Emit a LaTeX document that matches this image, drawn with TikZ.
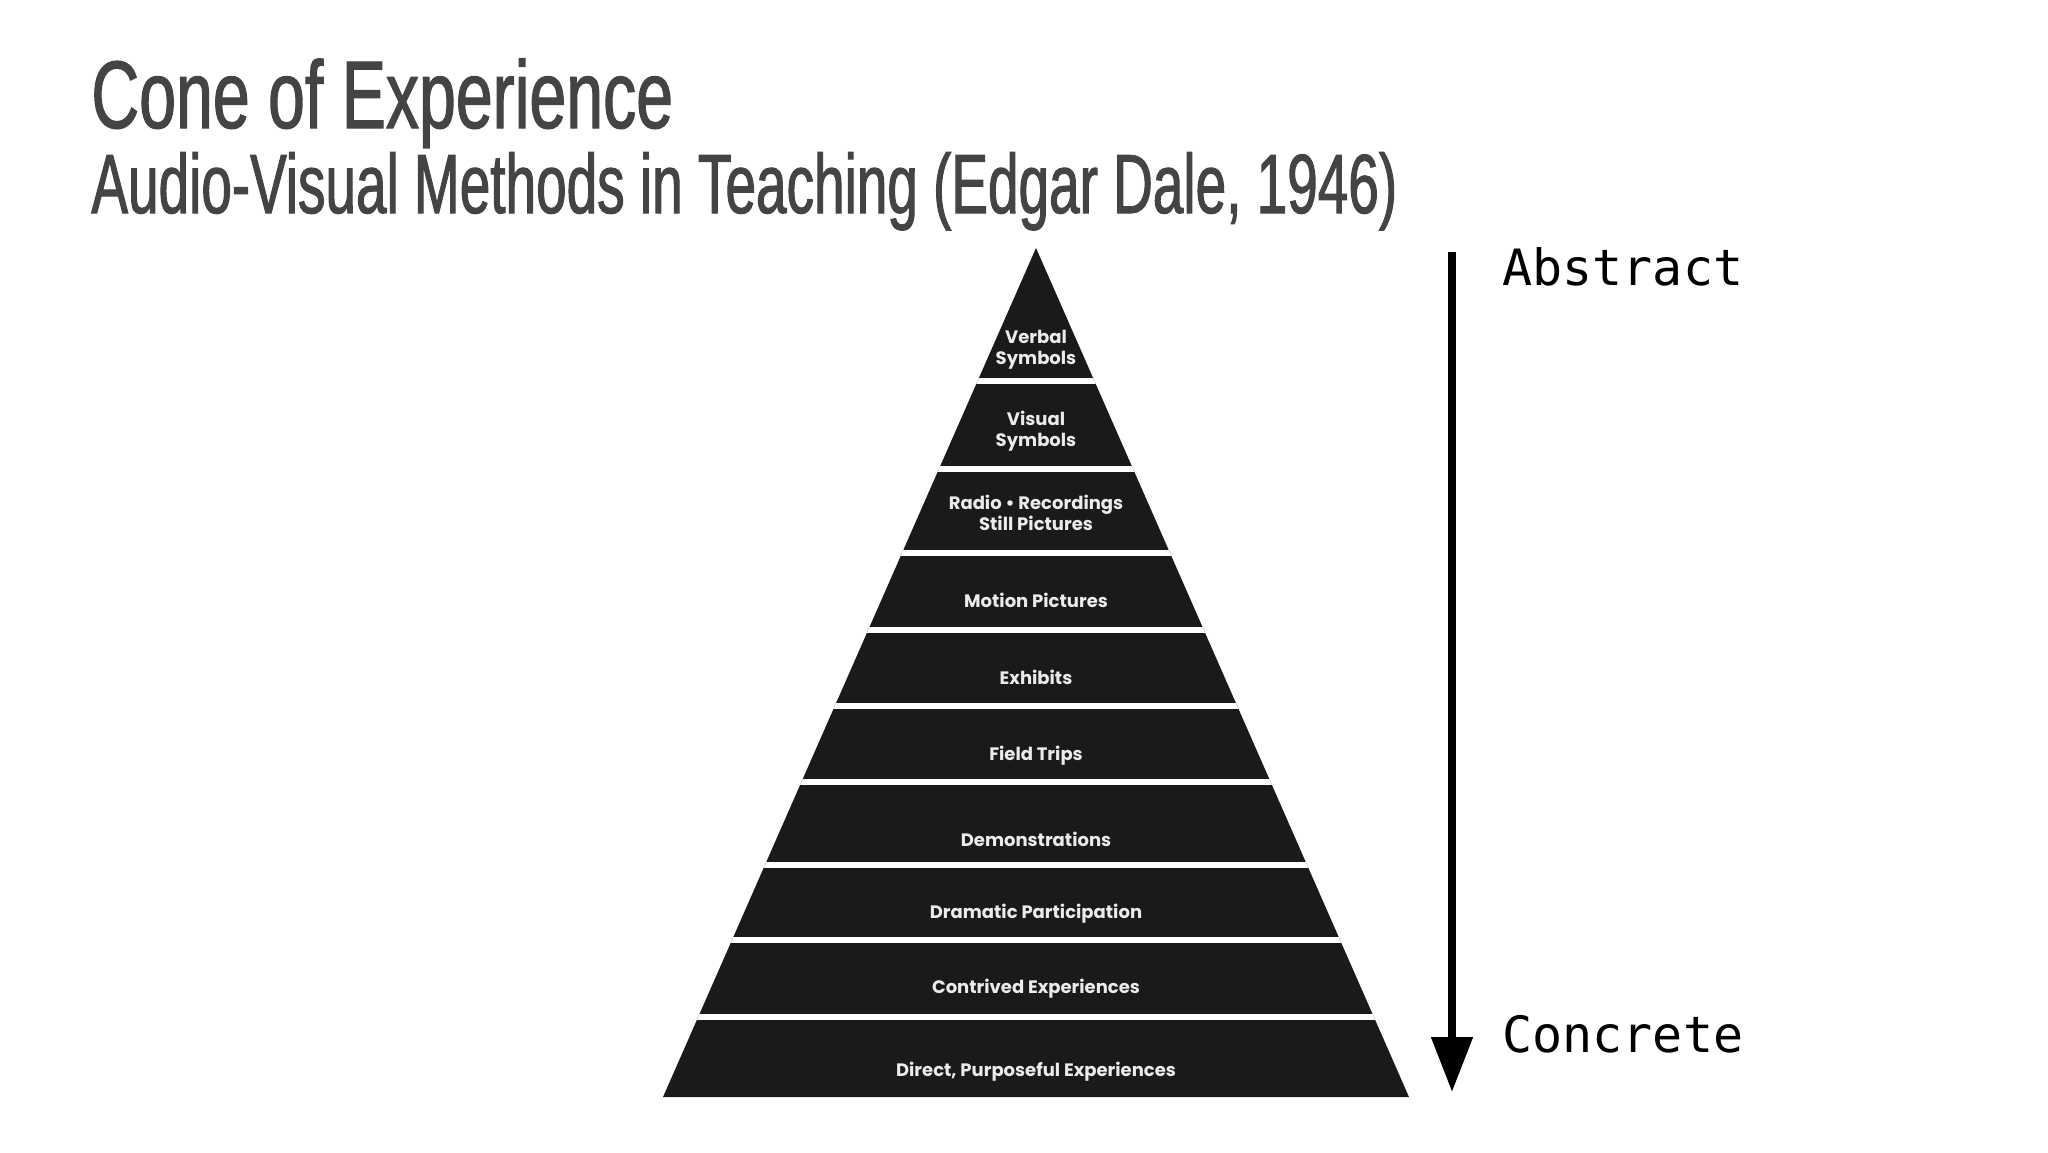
\documentclass[tikz,border=0pt]{standalone}
\usepackage{fontspec}
\usepackage{tikz}
\usetikzlibrary{arrows.meta,positioning}
\setmainfont{Liberation Sans}
\newfontfamily\headfont[FakeStretch=0.69,FakeBold=1.2]{Liberation Sans}
\newfontfamily\subheadfont[FakeStretch=0.654,FakeBold=1.2]{Liberation Sans}
\newfontfamily\conefont{Poppins}
\newfontfamily\axisfont{DejaVu Sans Mono}
\definecolor{conefill}{HTML}{1A1A1A}
\definecolor{headgray}{HTML}{444444}

\begin{document}
\begin{tikzpicture}[x=0.5pt, y=-0.5pt,
  layer/.style={text=white!92!black, font=\conefont\bfseries\fontsize{9}{10.5}\selectfont, align=center, inner sep=0pt},
  heading/.style={anchor=base west, text=headgray, inner sep=0pt},
  axislabel/.style={anchor=base west, font=\axisfont\fontsize{25}{25}\selectfont, inner sep=0pt}]
  \useasboundingbox[fill=white] (0,0) rectangle (2048,1152);

  \node[heading, font=\headfont\fontsize{48}{48}\selectfont] (title) at (91,128) {Cone of Experience};
  \node[heading, font=\subheadfont\fontsize{42}{42}\selectfont] (subtitle) at (91,213) {Audio-Visual Methods in Teaching (Edgar Dale, 1946)};

  % the cone
  \coordinate (apex) at (1036,248);
  \coordinate (baseL) at (663,1097);
  \coordinate (baseR) at (1409,1097);
  \fill[conefill] (apex) -- (baseR) -- (baseL) -- cycle;
  \begin{scope}
    \clip (apex) -- (baseR) -- (baseL) -- cycle;
    \foreach \y in {381,469,553,630,706,782,865,940,1017}
      \draw[white, line width=3pt] (600,\y) -- (1480,\y);
  \end{scope}

  \node[layer] (verbal) at (1036,350) {Verbal\\Symbols};
  \node[layer] (visual) at (1036,431) {Visual\\Symbols};
  \node[layer] (radio) at (1036,513) {Radio \textbullet{} Recordings\\Still Pictures};
  \node[layer] (motion) at (1036,600) {Motion Pictures};
  \node[layer] (exhibits) at (1036,677) {Exhibits};
  \node[layer] (field) at (1036,756) {Field Trips};
  \node[layer] (demo) at (1036,839) {Demonstrations};
  \node[layer] (drama) at (1036,914) {Dramatic Participation};
  \node[layer] (contrived) at (1036,989) {Contrived Experiences};
  \node[layer] (direct) at (1036,1072) {Direct, Purposeful Experiences};

  % abstract -> concrete
  \coordinate (top) at (1452,252);
  \coordinate (bottom) at (1452,1092);
  \draw[line width=4pt, -{Triangle[length=27.5pt, width=20pt]}] (top) -- (bottom);
  \node[axislabel] (abstract) at (1502,285) {Abstract};
  \node[axislabel] (concrete) at (1502,1052) {Concrete};
\end{tikzpicture}
\end{document}
